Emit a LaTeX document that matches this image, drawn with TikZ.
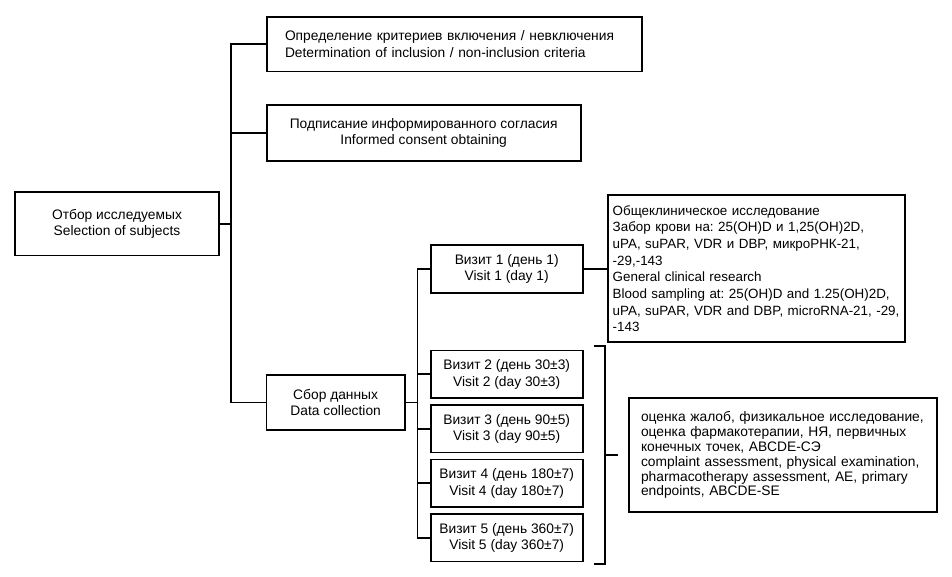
\documentclass[tikz,border=0pt]{standalone}
\usepackage{fontspec}
\setmainfont{Liberation Sans}
\frenchspacing
\begin{document}
\begin{tikzpicture}[x=1pt,y=-1pt,
  box/.style={draw, line width=1.8pt, inner sep=0pt, align=center,
    font=\fontsize{13.8}{16.7}\selectfont\frenchspacing},
  visitbox/.style={box, minimum width=152pt, minimum height=47.5pt},
  link/.style={line width=1.8pt}]
\useasboundingbox (0,0) rectangle (952,576);

% main nodes
\node[box, minimum width=204pt, minimum height=63.2pt] (n0) at (117,223.9)
  {Отбор исследуемых\\Selection of subjects};
\node[box, align=left, inner xsep=18.3pt, text width=338.4pt, minimum height=54.5pt] (n1) at (454.2,44.25)
  {Определение критериев включения / невключения\\Determination of inclusion / non-inclusion criteria};
\node[box, minimum width=314pt, minimum height=55.4pt] (n2) at (423.7,133)
  {Подписание информированного согласия\\Informed consent obtaining};
\node[box, minimum width=138.3pt, minimum height=55pt] (ns) at (335.65,402.5)
  {Сбор данных\\Data collection};

% visits
\node[visitbox] (v1) at (506.7,269.05) {Визит 1 (день 1)\\Visit 1 (day 1)};
\node[visitbox] (v2) at (506.7,374.3) {Визит 2 (день 30±3)\\Visit 2 (day 30±3)};
\node[visitbox] (v3) at (506.7,428.8) {Визит 3 (день 90±5)\\Visit 3 (day 90±5)};
\node[visitbox] (v4) at (506.7,483.3) {Визит 4 (день 180±7)\\Visit 4 (day 180±7)};
\node[visitbox] (v5) at (506.7,537.8) {Визит 5 (день 360±7)\\Visit 5 (day 360±7)};

% detail boxes
\node[box, align=left, inner xsep=5pt, text width=287.3pt, minimum height=147.3pt,
      font=\fontsize{13.4}{16.7}\selectfont\frenchspacing] (nb) at (756.35,268.65)
  {\mbox{Общеклиническое исследование}\\
   \mbox{Забор крови на: 25(OH)D и 1,25(OH)2D,}\\
   \mbox{uPA, suPAR, VDR и DBP, микроРНК-21,}\\
   \mbox{-29,-143}\\
   \mbox{General clinical research}\\
   \mbox{Blood sampling at: 25(OH)D and 1.25(OH)2D,}\\
   \mbox{uPA, suPAR, VDR and DBP, microRNA-21, -29,}\\
   \mbox{-143}};
\node[box, align=left, inner xsep=12pt, text width=283.7pt, minimum height=114pt,
      font=\fontsize{13.8}{14.8}\selectfont\frenchspacing] (nc) at (782.85,455.3)
  {\mbox{оценка жалоб, физикальное исследование,}\\
   \mbox{оценка фармакотерапии, НЯ, первичных}\\
   \mbox{конечных точек, ABCDE-СЭ}\\
   \mbox{complaint assessment, physical examination,}\\
   \mbox{pharmacotherapy assessment, AE, primary}\\
   \mbox{endpoints, ABCDE-SE}};

% trunks
\coordinate (t) at (230.7,0);
\coordinate (vt) at (417.4,0);
\draw[link] (n1.west) -- (n1.west -| t) -- (ns.west -| t) -- (ns.west);
\draw[link] (n2.west) -- (n2.west -| t);
\draw[link] (n0.east) -- (n0.east -| t);

\draw[link] (v1.west) -- (v1.west -| vt) -- (v5.west -| vt) -- (v5.west);
\draw[link] (ns.east) -- (ns.east -| vt);
\draw[link] (v2.west) -- (v2.west -| vt);
\draw[link] (v3.west) -- (v3.west -| vt);
\draw[link] (v4.west) -- (v4.west -| vt);
\draw[link] (v1.east) -- (v1.east -| nb.west);

% bracket
\coordinate (brT) at (605,346);
\coordinate (brB) at (605,564);
\draw[link] ([xshift=-11pt]brT) -- (brT) -- (brB) -- ([xshift=-11pt]brB);
\draw[link] (nc.west -| brT) -- ++(13,0);
\end{tikzpicture}
\end{document}
